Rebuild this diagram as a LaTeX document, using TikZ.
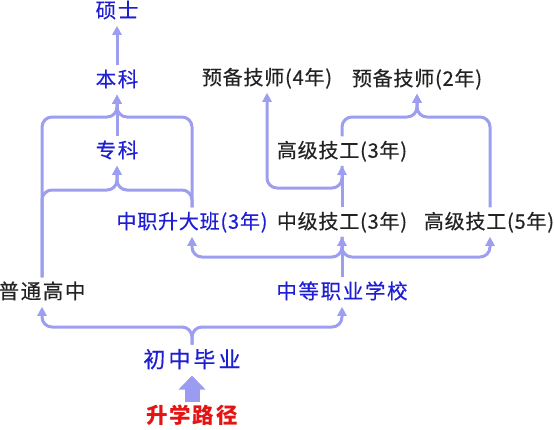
\documentclass[tikz,border=0pt]{standalone}
\usepackage{fontspec}
\usetikzlibrary{arrows.meta}
\newfontfamily\cjk{Noto Sans CJK SC}[LetterSpace=8,FakeBold=0.4]
\newfontfamily\cjkn{Noto Sans CJK SC}[LetterSpace=4,FakeBold=0.4]
\newfontfamily\cjkwide{Noto Sans CJK SC}[LetterSpace=14,FakeBold=0.4]
\newfontfamily\cjktitle{Noto Sans CJK SC}[LetterSpace=8]
\definecolor{tblue}{RGB}{30,30,210}
\definecolor{tblack}{RGB}{35,35,35}
\definecolor{lcol}{RGB}{158,158,240}
\definecolor{acol}{RGB}{155,155,242}
\definecolor{tred}{RGB}{228,20,20}
\begin{document}
\begin{tikzpicture}[x=1pt,y=-1pt,
  lbl/.style={inner sep=0pt, outer sep=6pt, text height=15.5pt, text depth=2pt, font=\cjk\fontsize{20.5}{20.5}\selectfont},
  yrs/.style={font=\cjkn\fontsize{20}{20}\selectfont},
  blu/.style={lbl, text=tblue},
  blk/.style={lbl, text=tblack},
  conn/.style={draw=lcol, line width=3pt, rounded corners=10pt, -{Triangle[width=9pt,length=9pt]}},
  bigarrow/.style={draw=acol, line width=15pt, -{Triangle[width=26pt,length=14pt]}}]
\useasboundingbox (0,0) rectangle (554,429);
% nodes
\node[blu] (shuoshi) at (117,11) {硕士};
\node[blu] (benke) at (117,80) {本科};
\node[blu] (zhuanke) at (117,151) {专科};
\node[blk, yrs] (yb4) at (267,78) {预备技师(4年)};
\node[blk, yrs] (yb2) at (417,79) {预备技师(2年)};
\node[blk, yrs] (gj3) at (342,151) {高级技工(3年)};
\node[blu, yrs] (sdb) at (192,222) {中职升大班(3年)};
\node[blk, yrs] (zj3) at (342,222) {中级技工(3年)};
\node[blk, yrs] (gj5) at (489,222) {高级技工(5年)};
\node[blk] (ptgz) at (42,292) {普通高中};
\node[blu] (zdzy) at (342,292) {中等职业学校};
\node[blu, text height=17pt, font=\cjkwide\fontsize{22}{22}\selectfont] (czby) at (192,360) {初中毕业};
\node[lbl, text=tred, font=\cjktitle\bfseries\fontsize{21.5}{21.5}\selectfont] (sxlj) at (192,417) {升学路径};
% junctions
\coordinate (jb) at (117,117);
\coordinate (jz) at (117,190);
\coordinate (jy2) at (417,117);
\coordinate (jy4) at (342,188);
\coordinate (jm) at (342,257);
\coordinate (jc) at (192,327);
% connectors
\draw[conn] (benke.north) -- (shuoshi.south);
\draw[conn] (zhuanke.north) -- (benke.south);
\draw[conn] (ptgz.north) |- (jb) -- (benke.south);
\draw[conn] (sdb.north) |- (jb) -- (benke.south);
\draw[conn] (ptgz.north) |- (jz) -- (zhuanke.south);
\draw[conn] (sdb.north) |- (jz) -- (zhuanke.south);
\draw[conn] (zj3.north) -- (gj3.south);
\draw[conn] (gj3.south) -- (jy4) -| (yb4.south);
\draw[conn] (gj3.north) |- (jy2) -- (yb2.south);
\draw[conn] (gj5.north -| 490,0) |- (jy2) -- (yb2.south);
\draw[conn] (zdzy.north) -- (zj3.south);
\draw[conn] (zj3.south) -- (jm) -| (sdb.south);
\draw[conn] (zj3.south) -- (jm) -| (gj5.south -| 490,0);
\draw[conn] (czby.north) -- (jc) -| (ptgz.south);
\draw[conn] (czby.north) -- (jc) -| (zdzy.south);
\draw[bigarrow] (sxlj.north) -- (czby.south);
\end{tikzpicture}
\end{document}
